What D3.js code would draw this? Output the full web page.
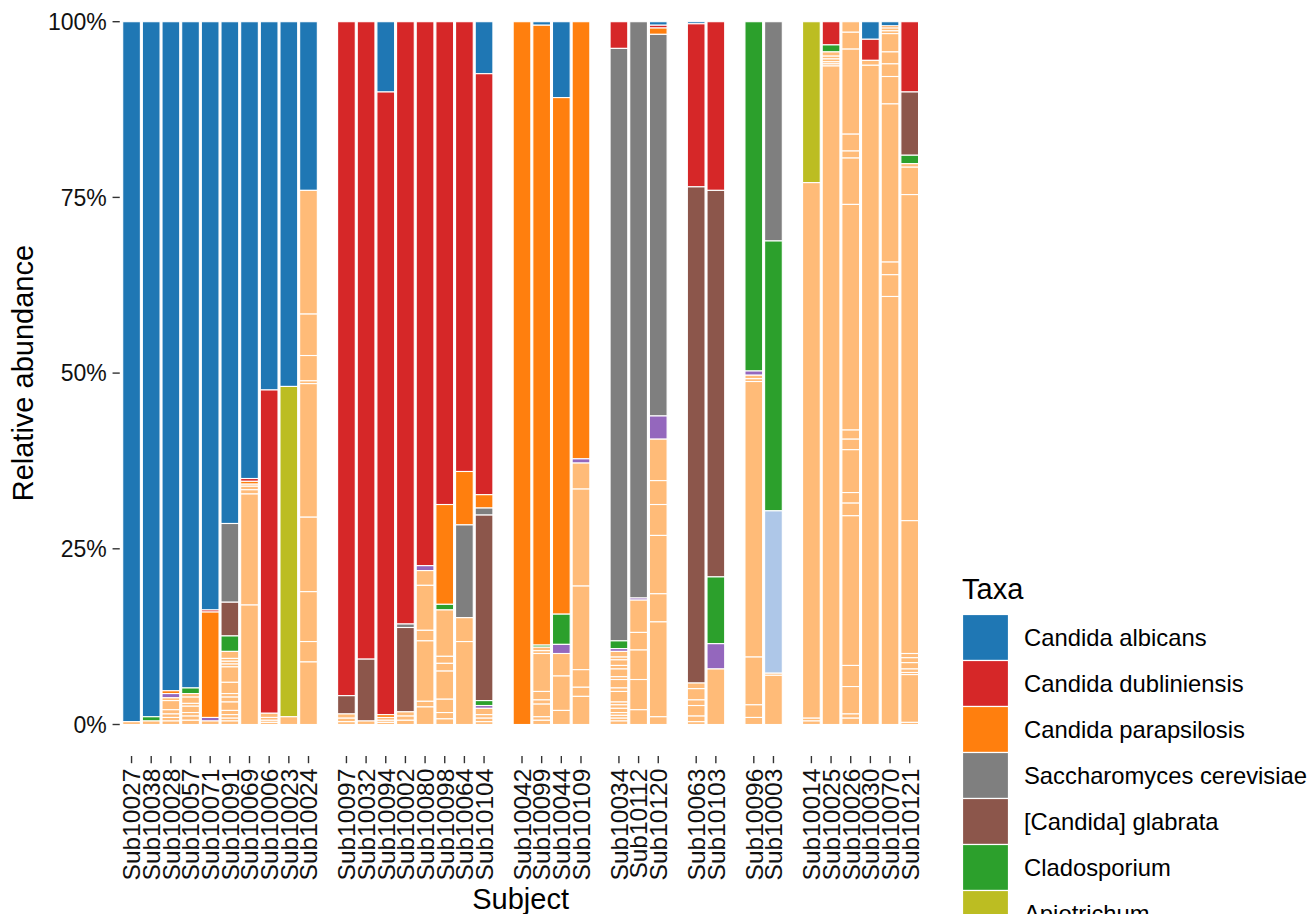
<!DOCTYPE html>
<html><head><meta charset="utf-8">
<script src="https://cdn.jsdelivr.net/npm/d3@7"></script>
<style>html,body{margin:0;padding:0;background:#fff;} svg{display:block;font-family:"Liberation Sans",Arial,Helvetica,sans-serif;}</style>
</head><body><svg id="chart" width="1310" height="914"></svg>
<script>
// ---------------- data ----------------
const subjects = ["Sub10027","Sub10038","Sub10028","Sub10057","Sub10071","Sub10091","Sub10069","Sub10006","Sub10023","Sub10024",
  "Sub10097","Sub10032","Sub10094","Sub10002","Sub10080","Sub10098","Sub10064","Sub10104",
  "Sub10042","Sub10099","Sub10044","Sub10109",
  "Sub10034","Sub10112","Sub10120",
  "Sub10063","Sub10103",
  "Sub10096","Sub10003",
  "Sub10014","Sub10025","Sub10026","Sub10030","Sub10070","Sub10121"];
const panelOf = [1,1,1,1,1,1,1,1,1,1, 2,2,2,2,2,2,2,2, 3,3,3,3, 4,4,4, 5,5, 6,6, 7,7,7,7,7,7];
const taxa = ["Candida albicans","Candida dubliniensis","Candida parapsilosis","Saccharomyces cerevisiae",
  "[Candida] glabrata","Cladosporium","Apiotrichum","Malassezia","Aspergillus","Other"];
const taxaColors = ["#1f77b4","#d62728","#ff7f0e","#7f7f7f","#8c564b","#2ca02c","#bcbd22","#9467bd","#aec7e8","#ffbb78"];
const yTicks = [0, 0.25, 0.5, 0.75, 1];

const albicans      = [99.6,98.9,95.2,94.8,83.7,71.4,65.0,52.4,51.9,24.0, 0,0,10.0,0,0,0,0,7.4, 0,0.5,10.8,0, 0,0,0.5, 0.3,0, 0,0, 0,0,0,2.5,0.6,0];
const dubliniensis  = [0,0,0,0,0.3,0,0.4,46.0,0,0, 95.9,90.7,88.6,85.7,77.4,68.7,64.0,59.9, 0,0,0,0, 3.8,0,0.4, 23.2,24.0, 0,0, 0,3.3,0,3.0,0,10.0];
const parapsilosis  = [0,0,0.4,0,15.0,0,0.4,0,0,0, 0,0,0.4,0,0,14.2,7.6,1.9, 100,88.2,73.5,62.2, 0,0,0.9, 0,0, 0,0, 0,0,0,0,0.3,0];
const saccharomyces = [0,0,0,0,0,11.2,0,0,0,0, 0,0,0,0.5,0,0,13.2,1.0, 0,0,0,0, 84.3,82.0,54.3, 0,0, 0,31.2, 0,0,0,0,0,0];
const glabrata      = [0,0,0,0,0,4.8,0,0,0,0, 2.6,8.8,0,12.0,0,0,0,26.4, 0,0,0,0, 0,0,0, 70.6,55.0, 0,0, 0,0,0,0,0,9.0];
const cladosporium  = [0,0.6,0,0.8,0,2.2,0,0,0,0, 0,0,0,0,0,0.8,0,0.7, 0,0.3,4.3,0, 1.1,0,0, 0,9.5, 49.7,38.4, 0,1.0,0,0,0,1.2];
const apiotrichum   = [0,0,0,0,0,0,0,0,47.0,0, 0,0,0,0,0,0,0,0, 0,0,0,0, 0,0,0, 0,0, 0,0, 22.9,0,0,0,0,0];
const malassezia    = [0,0,0.6,0,0.5,0,0,0,0,0, 0,0,0,0,0.7,0,0,0.4, 0,0,1.3,0.6, 0.4,0.3,3.3, 0,3.6, 0.6,0, 0,0,0,0,0,0];
const aspergillus   = [0,0,0,0,0,0,0,0,0,0, 0,0,0,0,0,0,0,0, 0,0,0,0, 0,0,0, 0,0, 0,23.1, 0,0,0,0,0,0];
// many low-abundance taxa, all drawn in the "Other" colour (top to bottom)
const other = [
  [0.4],
  [0.5],
  [0.4,1.3,0.6,0.5,0.5,0.5],
  [0.5,0.9,0.4,0.9,0.5,0.6,0.6],
  [0.5],
  [1.0,0.4,0.4,0.4,2.2,1.6,0.5,0.7,1.2,0.6,0.5,0.4,0.5],
  [0.3,0.5,0.6,15.8,17.0],
  [0.6,0.4,0.3,0.3],
  [1.1],
  [17.6,5.9,3.6,0.4,19.0,10.6,7.1,2.9,8.9],
  [0.6,0.5,0.4],
  [0.5],
  [0.4,0.3,0.3],
  [0.6,0.6,0.6],
  [2.1,6.4,1.5,8.6,0.8,2.5],
  [6.6,1.0,1.1,4.0,1.9,0.9,0.8],
  [3.4,11.8],
  [0.9,0.5,0.5,0.4],
  [],
  [0.5,0.4,5.4,1.2,0.6,1.8,0.5,0.6],
  [3.2,4.9,2.0],
  [3.7,13.8,11.9,2.5,1.3,4.0],
  [0.8,0.4,0.8,0.5,1.1,0.4,1.2,0.5,1.5,0.4,0.5,0.6,0.4,0.4,0.4,0.5],
  [4.6,2.5,4.2,4.3,2.1],
  [5.9,3.4,4.4,8.3,4.0,13.5,1.1],
  [0.8,1.6,0.8,1.5,0.8,0.4],
  [7.9],
  [0.5,0.4,39.2,6.8,1.8,1.0],
  [0.3,7.0],
  [76.2,0.4,0.5],
  [0.6,0.4,0.4,0.3,0.3,93.7],
  [1.5,2.4,12.1,2.4,1.0,6.6,32.1,1.3,1.5,6.1,1.5,1.8,21.3,3.0,3.9,0.6,0.9],
  [0.7,93.8],
  [0.4,0.4,2.6,1.7,1.8,3.9,22.5,1.8,3.1,60.9],
  [0.5,3.9,46.4,18.9,0.6,0.7,0.9,0.5,0.3,6.8,0.3]
];
const namedSeries = [albicans,dubliniensis,parapsilosis,saccharomyces,glabrata,cladosporium,apiotrichum,malassezia,aspergillus];

// ---------------- layout ----------------
const svg = d3.select("#chart");
const plotLeft = 119.75, plotRight = 921.5, plotTop = 21.7, plotBottom = 724.5;
const panelGap = 14.35;
const panelIds = Array.from(new Set(panelOf));
const panelSubs = panelIds.map(p => subjects.filter((s,i) => panelOf[i] === p));
const units = d3.sum(panelSubs, d => d.length + 0.2);
const unit = (plotRight - plotLeft - panelGap*(panelIds.length-1)) / units;

const xScales = {};
let px = plotLeft;
panelSubs.forEach((subs, k) => {
  const w = (subs.length + 0.2) * unit;
  const sc = d3.scaleBand().domain(subs).range([px, px + w]).paddingInner(0.1).paddingOuter(0.15);
  subs.forEach(s => xScales[s] = sc);
  px += w + panelGap;
});
const y = d3.scaleLinear().domain([0, 1]).range([plotBottom, plotTop]);
const color = d3.scaleOrdinal().domain(taxa).range(taxaColors);

// ---------------- segments ----------------
const segs = [];
subjects.forEach((s, i) => {
  const parts = [];
  namedSeries.forEach((arr, t) => { if (arr[i] > 0) parts.push({taxon: taxa[t], v: arr[i]}); });
  other[i].forEach(v => parts.push({taxon: "Other", v}));
  const total = d3.sum(parts, d => d.v);
  let top = 1;
  parts.forEach(p => {
    const f = p.v / total;
    segs.push({subject: s, taxon: p.taxon, y1: top, y0: top - f});
    top -= f;
  });
});

svg.append("g").selectAll("rect").data(segs).join("rect")
  .attr("x", d => xScales[d.subject](d.subject))
  .attr("width", d => xScales[d.subject].bandwidth())
  .attr("y", d => y(d.y1))
  .attr("height", d => y(d.y0) - y(d.y1))
  .attr("fill", d => color(d.taxon))
  .attr("stroke", "#fff")
  .attr("stroke-width", 1.1);

// ---------------- y axis ----------------
const yAx = svg.append("g");
yAx.selectAll("line").data(yTicks).join("line")
  .attr("x1", plotLeft - 7.2).attr("x2", plotLeft)
  .attr("y1", d => y(d)).attr("y2", d => y(d))
  .attr("stroke", "#333").attr("stroke-width", 1.4);
yAx.selectAll("text").data(yTicks).join("text")
  .attr("x", plotLeft - 13).attr("y", d => y(d)).attr("dy", "0.36em")
  .attr("text-anchor", "end").attr("font-size", 23).attr("fill", "#111")
  .text(d => d3.format(".0%")(d));
svg.append("text")
  .attr("transform", `translate(33,${(plotTop+plotBottom)/2}) rotate(-90)`)
  .attr("text-anchor", "middle").attr("font-size", 29).attr("fill", "#000")
  .text("Relative abundance");

// ---------------- x axis ----------------
const tickTop = 756, tickLen = 7.2;
const xAx = svg.append("g");
xAx.selectAll("line").data(subjects).join("line")
  .attr("x1", d => xScales[d](d) + xScales[d].bandwidth()/2)
  .attr("x2", d => xScales[d](d) + xScales[d].bandwidth()/2)
  .attr("y1", tickTop).attr("y2", tickTop + tickLen)
  .attr("stroke", "#333").attr("stroke-width", 1.4);
xAx.selectAll("text").data(subjects).join("text")
  .attr("transform", d => `translate(${xScales[d](d) + xScales[d].bandwidth()/2},${tickTop + tickLen + 5.5}) rotate(-90)`)
  .attr("dy", "0.36em").attr("text-anchor", "end")
  .attr("font-size", 24.5).attr("fill", "#111")
  .text(d => d);
svg.append("text")
  .attr("x", (plotLeft + plotRight)/2).attr("y", 909)
  .attr("text-anchor", "middle").attr("font-size", 29).attr("fill", "#000")
  .text("Subject");

// ---------------- legend ----------------
const lg = svg.append("g");
lg.append("text").attr("x", 962).attr("y", 599).attr("font-size", 29).attr("fill", "#000").text("Taxa");
const keyTop = 614.5, keyStep = 46;
const items = lg.selectAll("g.item").data(taxa).join("g").attr("class", "item")
  .attr("transform", (d, i) => `translate(962.5,${keyTop + i*keyStep})`);
items.append("rect").attr("width", 46).attr("height", keyStep)
  .attr("fill", d => color(d)).attr("stroke", "#fff").attr("stroke-width", 1.2);
items.append("text").attr("x", 61.5).attr("y", keyStep/2).attr("dy", "0.36em")
  .attr("font-size", 23.8).attr("fill", "#000").text(d => d);
</script></body></html>
